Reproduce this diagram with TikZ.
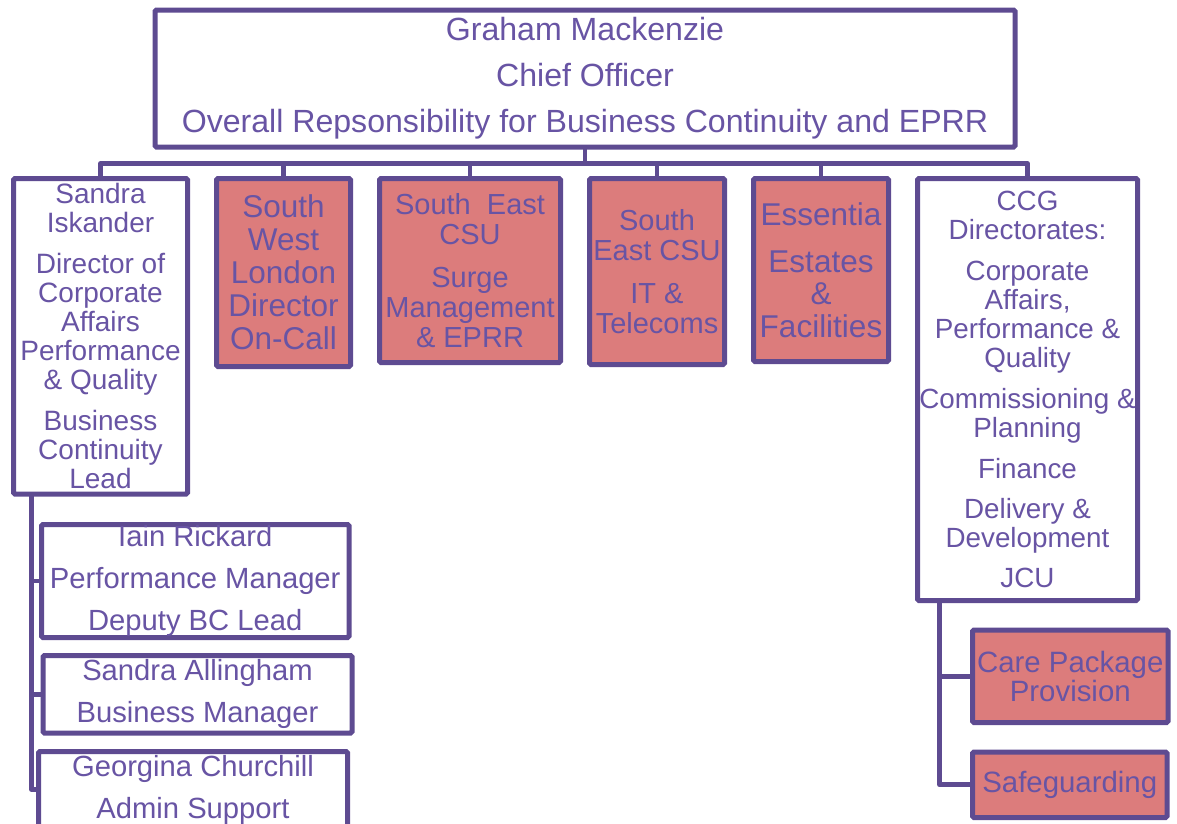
\documentclass[tikz,border=0pt]{standalone}
\usepackage{fontspec}
\setmainfont{Liberation Sans}
\definecolor{lnc}{RGB}{94,75,145}
\definecolor{txc}{RGB}{104,84,164}
\definecolor{pinkf}{RGB}{220,124,124}
\tikzset{
  box/.style={draw=lnc, line width=5pt, rounded corners=1.5pt, fill=white, text=txc,
    align=center, inner sep=0pt, outer sep=0pt, anchor=north west},
  pbox/.style={box, fill=pinkf},
  conn/.style={draw=lnc, line width=4.8pt, line join=round, line cap=rect},
}
\newcommand{\fs}[2]{\fontsize{#1}{#2}\selectfont}
\begin{document}
\begin{tikzpicture}[x=1pt,y=-1pt]
\useasboundingbox (0,0) rectangle (1177,823);
\clip (0,0) rectangle (1177,823);
\coordinate (bus) at (585,163.5);
\coordinate (ltrunk) at (31.5,494);
\coordinate (rtrunk) at (939.5,600.5);
% boxes
\node[box, minimum width=860, minimum height=137, font=\fs{32.1}{46}] (top) at (155,10)
  {Graham Mackenzie\\Chief Officer\\Overall Repsonsibility for Business Continuity and EPRR};
\node[box, minimum width=174, minimum height=315.5, font=\fs{28}{29}] (sandra) at (13.5,178.5)
  {Sandra\\Iskander\\[12pt]Director of\\Corporate\\Affairs\\Performance\\\& Quality\\[12pt]Business\\Continuity\\Lead};
\node[pbox, minimum width=134, minimum height=188, font=\fs{31.5}{33}] (sw) at (216.5,178.5)
  {South\\West\\London\\Director\\On-Call};
\node[pbox, minimum width=181, minimum height=184, font=\fs{29}{30}] (se) at (379.5,178.5)
  {South\ \ East\\CSU\\[13pt]Surge\\Management\\\& EPRR};
\node[pbox, minimum width=135, minimum height=186, font=\fs{29}{30}] (it) at (589.5,178.5)
  {South\\East CSU\\[13pt]IT \&\\Telecoms};
\node[pbox, minimum width=135, minimum height=183, font=\fs{31.5}{32.5}] (ess) at (753.5,178.5)
  {Essentia\\[14.5pt]Estates\\\&\\Facilities};
\node[box, minimum width=220, minimum height=422, font=\fs{27.8}{29}] (ccg) at (917.5,178.5)
  {CCG\\Directorates:\\[12pt]Corporate\\Affairs,\\Performance \&\\Quality\\[12pt]Commissioning \&\\Planning\\[12pt]Finance\\[11pt]Delivery \&\\Development\\[11pt]JCU};
\node[box, minimum width=307.5, minimum height=113, font=\fs{29.2}{42}] (iain) at (41.5,524.5)
  {Iain Rickard\\Performance Manager\\Deputy BC Lead};
\node[box, minimum width=309, minimum height=77.5, font=\fs{29.2}{42}] (alling) at (43,655.5)
  {Sandra Allingham\\Business Manager};
\node[box, minimum width=309, minimum height=76, font=\fs{29.2}{42}] (georg) at (38.5,751.5)
  {Georgina Churchill\\Admin Support};
\node[pbox, minimum width=195.5, minimum height=92.5, font=\fs{29.4}{29}] (care) at (972.5,630)
  {Care Package\\Provision};
\node[pbox, minimum width=194.5, minimum height=65.5, font=\fs{29.4}{29}] (safe) at (972.5,752)
  {Safeguarding};
% connectors
\draw[conn] (top.south) -- (bus);
\draw[conn] (sandra.north) |- (bus) -| (ccg.north);
\draw[conn] (sw.north) -- (sw.north |- bus);
\draw[conn] (se.north) -- (se.north |- bus);
\draw[conn] (it.north) -- (it.north |- bus);
\draw[conn] (ess.north) -- (ess.north |- bus);
\draw[conn] (ltrunk) |- (georg.west);
\draw[conn] (ltrunk |- iain.west) -- (iain.west);
\draw[conn] (ltrunk |- alling.west) -- (alling.west);
\draw[conn] (rtrunk) |- (safe.west);
\draw[conn] (rtrunk |- care.west) -- (care.west);
\end{tikzpicture}
\end{document}
